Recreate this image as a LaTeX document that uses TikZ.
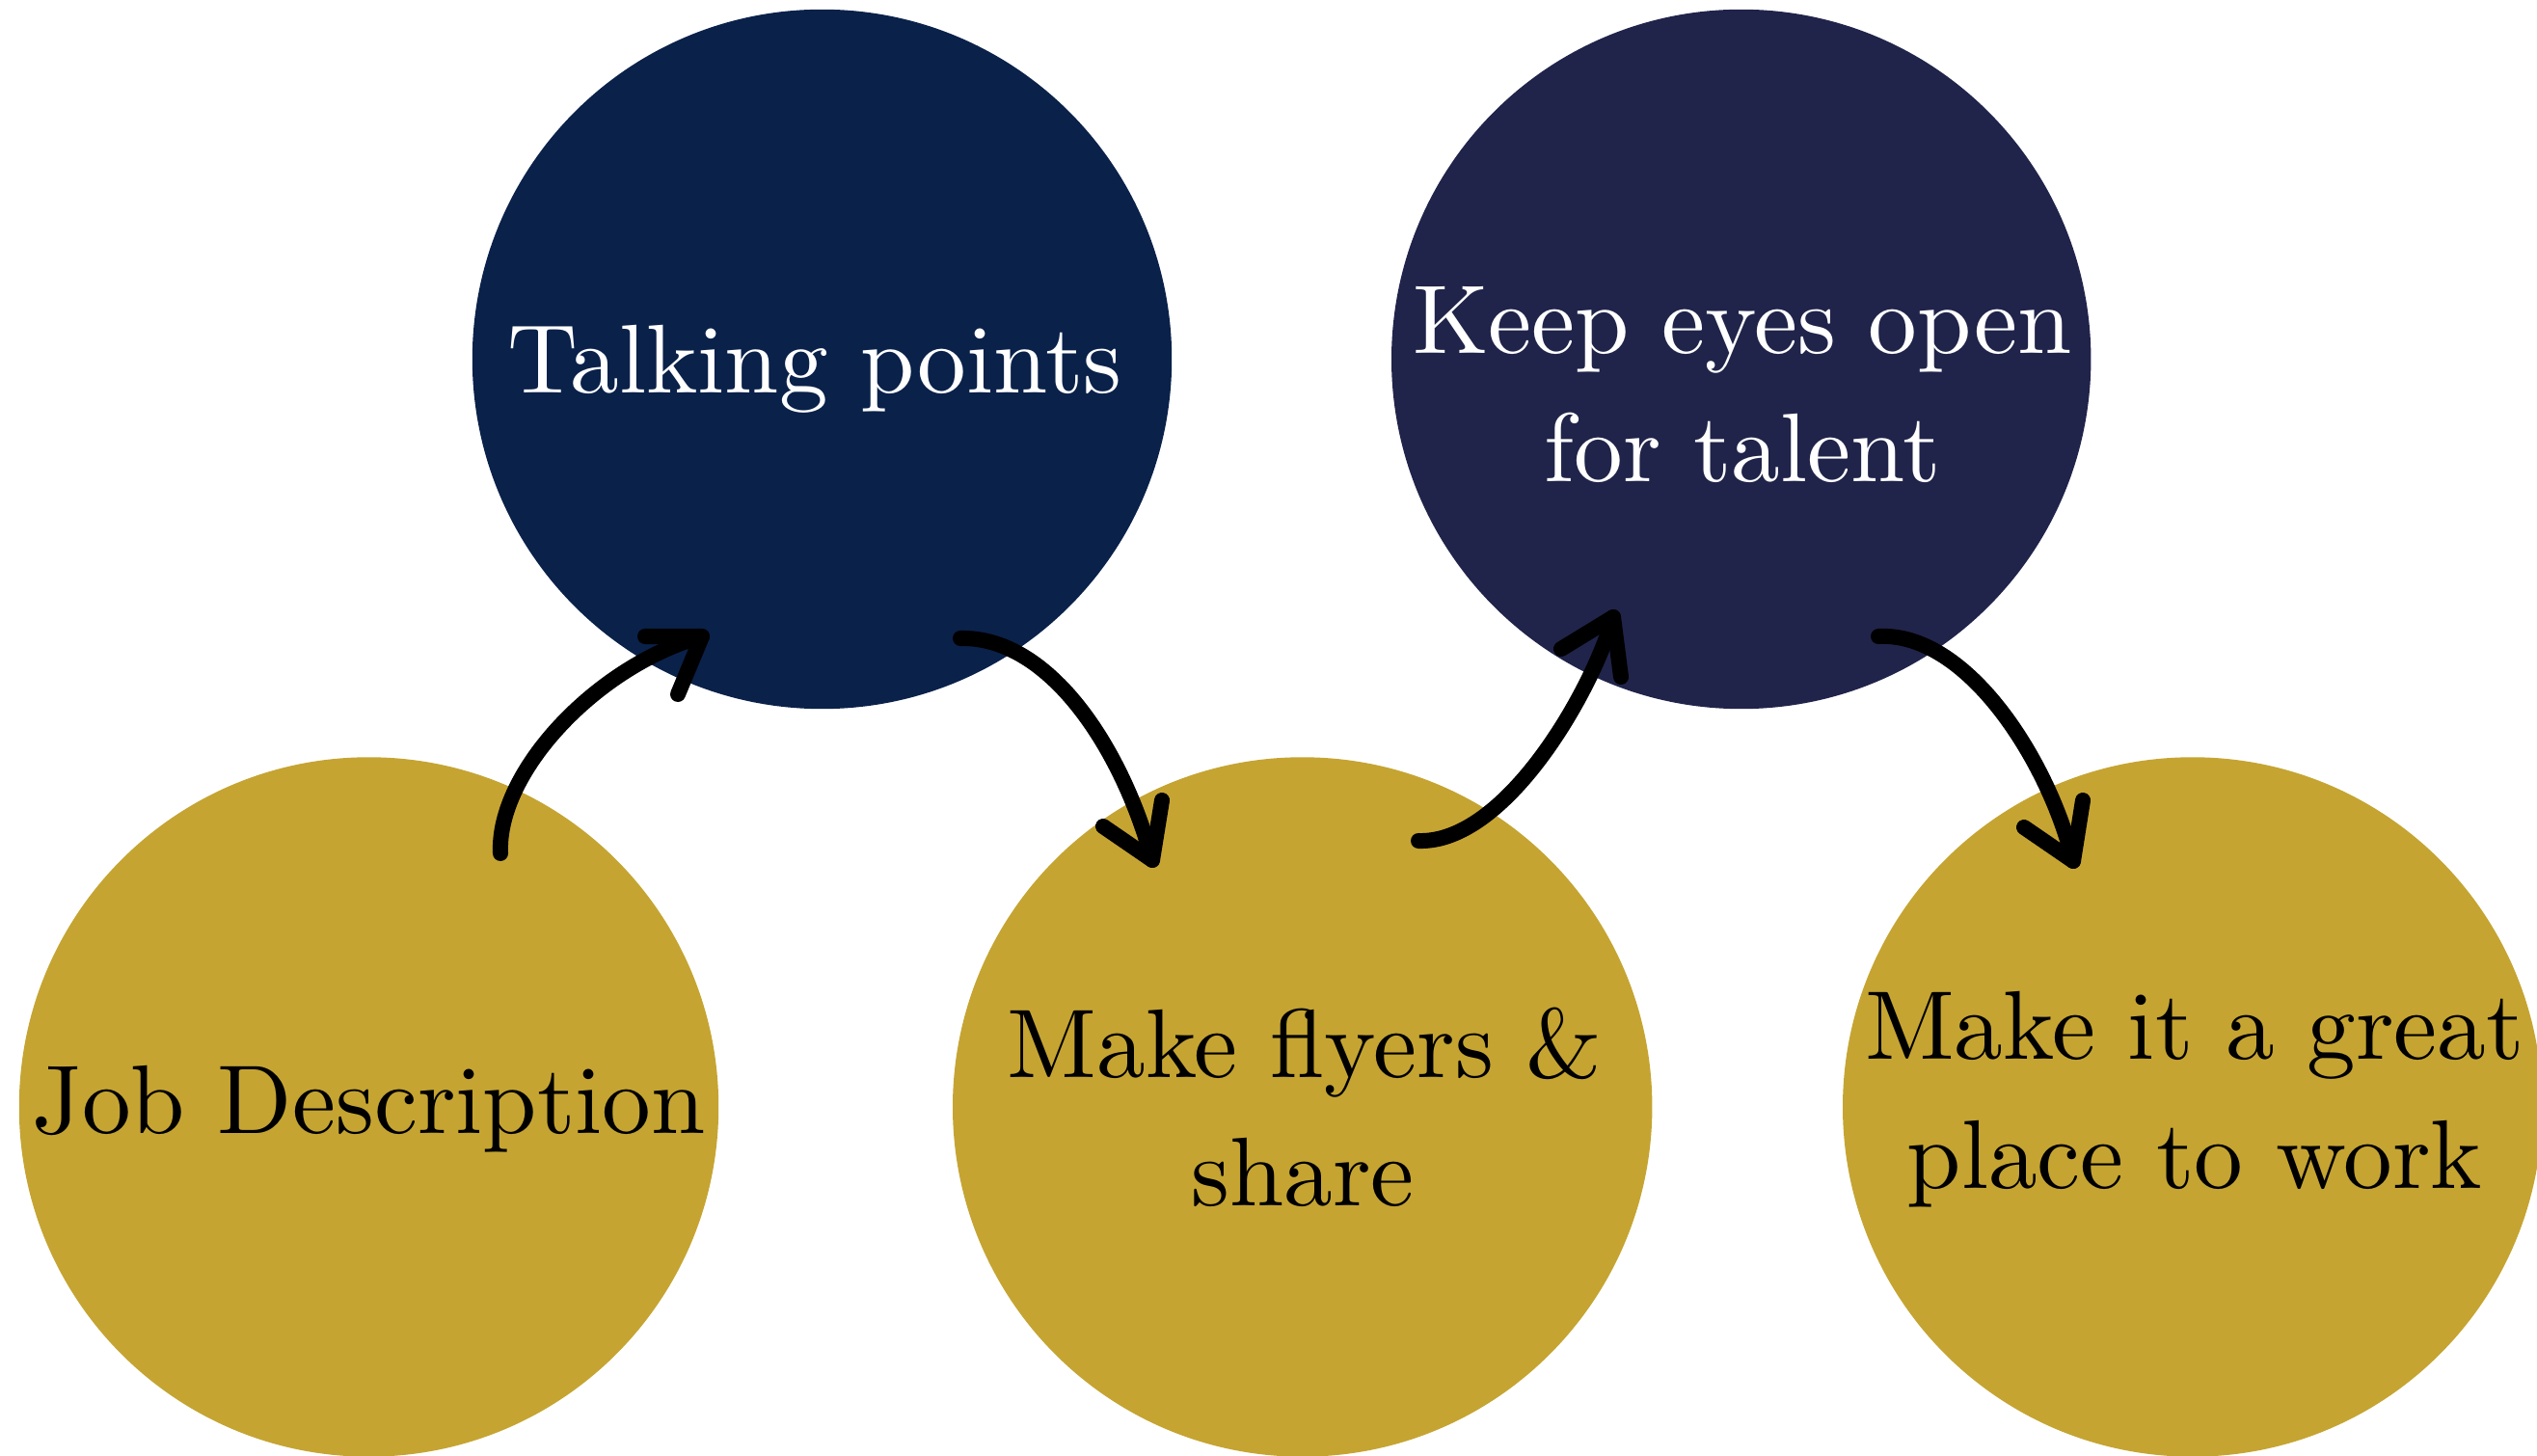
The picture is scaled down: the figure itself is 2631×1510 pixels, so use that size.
\documentclass[tikz,border=0pt]{standalone}
\usepackage{fontspec}
\setmainfont{lmroman10-regular.otf}
\definecolor{gold}{RGB}{197,164,50}
\definecolor{navyA}{RGB}{10,33,74}
\definecolor{navyB}{RGB}{32,36,74}
\begin{document}
\begin{tikzpicture}[x=0.01cm,y=-0.01cm,
  disc/.style={circle,minimum size=7.25cm,inner sep=0pt},
  lbl/.style={anchor=base,inner sep=0pt,font=\fontsize{28.8}{37.8}\selectfont},
  brush/.style={line width=0.16cm,line cap=round,line join=round,black},
]
\useasboundingbox (0,0) rectangle (2631,1510);
\begin{scope}
\clip (0,0) rectangle (2631,1510);
\node[disc,fill=gold] (jd) at (382.5,1148) {};
\node[disc,fill=navyA] (tp) at (852.5,372.5) {};
\node[disc,fill=gold] (mf) at (1350.7,1148) {};
\node[disc,fill=navyB] (ke) at (1805.7,372.5) {};
\node[disc,fill=gold] (mi) at (2273.7,1148) {};
\end{scope}

\node[lbl] (tjd) at (382.5,1175) {Job Description};
\node[lbl,white] (ttp) at (845,408) {Talking points};
\node[lbl] (tmf1) at (1353,1117) {Make flyers \&};
\node[lbl] (tmf2) at (1351,1250) {share};
\node[lbl,white] (tke1) at (1807,367) {Keep eyes open};
\node[lbl,white] (tke2) at (1807,500) {for talent};
\node[lbl] (tmi1) at (2276,1098) {Make it a great};
\node[lbl] (tmi2) at (2276,1232) {place to work};

% arrow 1: Job Description -> Talking points
\coordinate (a1s) at (519,885);
\coordinate (a1t) at (728,660);
\coordinate (a1b) at (669,660);
\coordinate (a1c) at (703,720);
\draw[brush] (a1s) .. controls (515,800) and (620,690) .. (a1t);
\draw[brush] (a1b) -- (a1t) -- (a1c);

% arrow 2: Talking points -> Make flyers
\coordinate (a2s) at (996,662);
\coordinate (a2t) at (1195,892);
\coordinate (a2b) at (1144,857);
\coordinate (a2c) at (1205,830);
\draw[brush] (a2s) .. controls (1090,660) and (1165,780) .. (a2t);
\draw[brush] (a2b) -- (a2t) -- (a2c);

% arrow 3: Make flyers -> Keep eyes open
\coordinate (a3s) at (1471,872);
\coordinate (a3t) at (1673,640);
\coordinate (a3b) at (1619,673);
\coordinate (a3c) at (1681,702);
\draw[brush] (a3s) .. controls (1560,875) and (1650,720) .. (a3t);
\draw[brush] (a3b) -- (a3t) -- (a3c);

% arrow 4: Keep eyes open -> Make it a great place
\coordinate (a4s) at (1948,660);
\coordinate (a4t) at (2150,893);
\coordinate (a4b) at (2099,858);
\coordinate (a4c) at (2160,830);
\draw[brush] (a4s) .. controls (2040,655) and (2125,790) .. (a4t);
\draw[brush] (a4b) -- (a4t) -- (a4c);
\end{tikzpicture}
\end{document}
